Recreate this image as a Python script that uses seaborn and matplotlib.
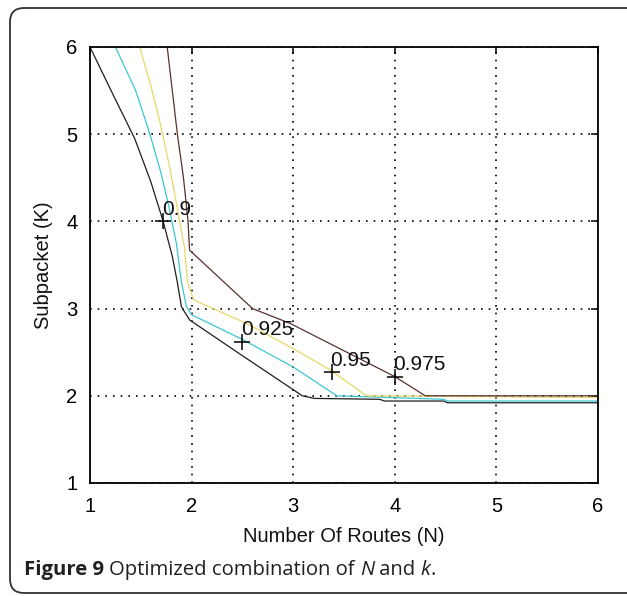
import matplotlib
matplotlib.use("Agg")
import matplotlib.pyplot as plt
import numpy as np
import pandas as pd
import seaborn as sns
from matplotlib.patches import FancyBboxPatch

# Optimized (N, K) curves for each reliability level
n_090 = [1.00, 1.22, 1.44, 1.60, 1.72, 1.81, 1.86, 1.90, 1.98, 2.50, 3.09, 3.21, 3.85, 3.90, 4.48, 4.52, 6.00]
k_090 = [6.00, 5.47, 4.95, 4.45, 4.00, 3.60, 3.30, 3.02, 2.87, 2.46, 2.00, 1.97, 1.96, 1.94, 1.94, 1.92, 1.92]

n_0925 = [1.25, 1.45, 1.59, 1.70, 1.78, 1.85, 1.90, 1.95, 2.00, 2.51, 3.00, 3.43, 4.48, 4.52, 6.00]
k_0925 = [6.00, 5.50, 5.00, 4.55, 4.15, 3.75, 3.30, 3.02, 2.93, 2.64, 2.33, 2.00, 1.96, 1.94, 1.94]

n_095 = [1.49, 1.60, 1.69, 1.78, 1.85, 1.93, 1.96, 2.02, 2.54, 2.97, 3.36, 3.72, 6.00]
k_095 = [6.00, 5.55, 5.13, 4.65, 4.21, 3.70, 3.30, 3.10, 2.83, 2.56, 2.30, 2.00, 1.98]

n_0975 = [1.76, 1.81, 1.86, 1.92, 1.965, 1.98, 2.60, 2.97, 4.00, 4.30, 6.00]
k_0975 = [6.00, 5.50, 5.00, 4.50, 4.00, 3.67, 3.00, 2.83, 2.22, 2.00, 2.00]

levels = ["0.9", "0.925", "0.95", "0.975"]
curve_colors = ["#1e1e1e", "#3cc6cf", "#e6d86a", "#5a3030"]

# Labelled points on the curves
mark_n = [1.72, 2.50, 3.38, 4.00]
mark_k = [4.00, 2.62, 2.27, 2.22]
mark_text = ["0.9", "0.925", "0.95", "0.975"]

x_ticks = [1, 2, 3, 4, 5, 6]
y_ticks = [1, 2, 3, 4, 5, 6]

frames = []
for lev, n, k in zip(levels, [n_090, n_0925, n_095, n_0975], [k_090, k_0925, k_095, k_0975]):
    frames.append(pd.DataFrame({"N": n, "K": k, "level": lev}))
curves = pd.concat(frames, ignore_index=True)
marks = pd.DataFrame({"N": mark_n, "K": mark_k, "text": mark_text})

sns.set_style("white")
plt.rcParams["font.family"] = ["Liberation Sans", "DejaVu Sans"]

W, H = 627, 596
fig = plt.figure(figsize=(W / 100, H / 100), dpi=100)
fig.patch.set_facecolor("white")

# Background layer in pixel units for the rounded frame
bg = fig.add_axes([0, 0, 1, 1], zorder=-1)
bg.set_xlim(0, W)
bg.set_ylim(H, 0)
bg.axis("off")
frame = FancyBboxPatch((10, 8), 660, 585,
                       boxstyle="round,pad=0,rounding_size=14",
                       fill=False, edgecolor="#333333", linewidth=1.3)
bg.add_patch(frame)

ax_l, ax_r, ax_t, ax_b = 90, 598, 47, 483
ax = fig.add_axes([ax_l / W, 1 - ax_b / H, (ax_r - ax_l) / W, (ax_b - ax_t) / H])
ax.set_facecolor("white")

sns.lineplot(data=curves, x="N", y="K", hue="level",
             palette=dict(zip(levels, curve_colors)),
             sort=False, estimator=None, legend=False,
             linewidth=0.9, ax=ax)

sns.scatterplot(data=marks, x="N", y="K", marker="+", s=130,
                color="black", linewidth=1.1, ax=ax, zorder=5)
for n, k, t in zip(marks["N"], marks["K"], marks["text"]):
    ax.annotate(t, (n, k), xytext=(-1, 4.5), textcoords="offset points",
                ha="left", va="baseline", fontsize=15, color="#111111")

ax.set_xlim(1, 6)
ax.set_ylim(1, 6)
ax.set_xticks(x_ticks)
ax.set_yticks(y_ticks)
ax.set_xticklabels([str(v) for v in x_ticks])
ax.set_yticklabels([str(v) for v in y_ticks])

ax.grid(True, color="black", linestyle=(0, (1, 3.6)), linewidth=1.2)
for s in ax.spines.values():
    s.set_visible(True)
    s.set_color("black")
    s.set_linewidth(1.3)
ax.tick_params(direction="in", length=5, width=1.1, top=True, right=True,
               labelsize=14.5, colors="black")
ax.tick_params(axis="x", pad=10)
ax.tick_params(axis="y", pad=9)

ax.set_xlabel("Number Of Routes (N)", fontsize=14.5, color="#111111")
ax.set_ylabel("Subpacket (K)", fontsize=14.5, color="#111111")
ax.xaxis.set_label_coords(0.5, -0.101)
ax.yaxis.set_label_coords(-0.072, 0.5)

# Caption built from styled pieces
pieces = [("Figure 9 ", "bold", "normal"),
          ("Optimized combination of ", "normal", "normal"),
          ("N", "normal", "italic"),
          (" and ", "normal", "normal"),
          ("k", "normal", "italic"),
          (".", "normal", "normal")]
renderer = fig.canvas.get_renderer()
x = 24
y_base = 575
for txt, wgt, sty in pieces:
    t = bg.text(x, y_base, txt, fontsize=14.6, fontweight=wgt, fontstyle=sty,
                family=["Open Sans", "DejaVu Sans"], color="#231f20",
                ha="left", va="baseline")
    bb = t.get_window_extent(renderer=renderer)
    x += bb.width

fig.savefig("out.png", dpi=100, facecolor="white")
